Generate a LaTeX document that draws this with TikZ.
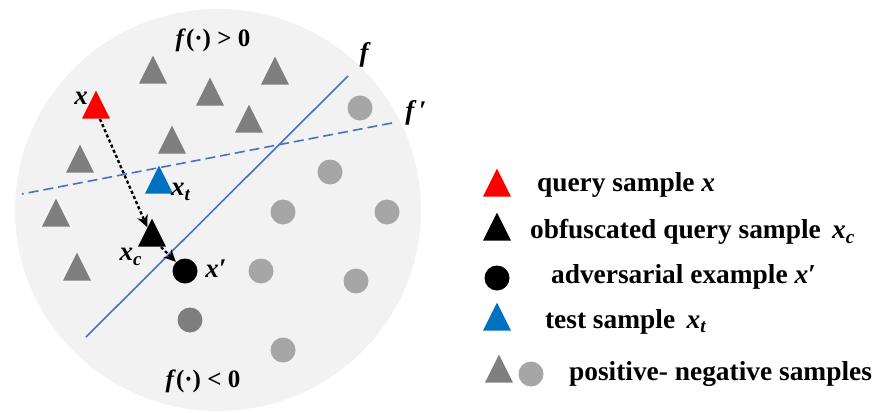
\documentclass[tikz,border=0pt]{standalone}
\usepackage{fontspec}
\setmainfont{Liberation Serif}
\usetikzlibrary{positioning,arrows.meta,shapes.geometric}
\definecolor{bgGray}{RGB}{242,242,242}
\definecolor{posGray}{RGB}{127,127,127}
\definecolor{negGray}{RGB}{166,166,166}
\definecolor{lineBlue}{RGB}{68,114,196}
\definecolor{testBlue}{RGB}{0,112,192}
\tikzset{
  tri/.style={isosceles triangle, isosceles triangle apex angle=53, shape border rotate=90,
    minimum height=14pt, inner sep=0pt, fill=#1},
  dot/.style={circle, minimum size=12.5pt, inner sep=0pt, fill=#1},
  lbl/.style={font=\fontsize{13.5}{15}\selectfont\bfseries\itshape},
  lgd/.style={font=\fontsize{13.7}{16}\selectfont\bfseries, anchor=west},
  region/.style={font=\fontsize{12.5}{15}\selectfont\bfseries},
  qarrow/.style={dash pattern=on 1.6pt off 1.2pt, line width=1.2pt, -{Stealth[length=6pt,width=5.5pt]}},
}
\begin{document}
\begin{tikzpicture}[x=0.5pt, y=-0.5pt]
  \useasboundingbox (0,0) rectangle (877,412);
  % feature space
  \fill[bgGray] (218,210) ellipse[x radius=203, y radius=201];

  % positive (triangles) and negative (circles) samples
  \foreach \x/\y [count=\i] in {153/75, 275/76, 210/97, 249/124, 172/145, 80/164, 56/218, 77/272}
    \node[tri=posGray] (p\i) at (\x,\y) {};
  \foreach \x/\y [count=\i] in {360/108, 330/172, 283/212, 387/212, 261/271, 356/281, 283/350}
    \node[dot=negGray] (n\i) at (\x,\y) {};
  \node[dot=posGray] (n8) at (190,320) {};

  % decision boundaries
  \coordinate (fa) at (348,76);
  \coordinate (fb) at (86,337);
  \coordinate (ga) at (392,123);
  \coordinate (gb) at (22,194);
  \draw[lineBlue, line width=0.8pt] (fa) -- (fb);
  \draw[lineBlue, line width=0.8pt, dash pattern=on 5pt off 2.5pt] (ga) -- (gb);
  \node[lbl] (fl) at (364,55) {f};
  \node[lbl] (gl) at (416,113) {f\,′};

  % query, obfuscated query, adversarial and test samples
  \node[tri=red] (qx) at (96,110) {};
  \node[tri=black] (xc) at (152,238) {};
  \node[dot=black] (xp) at (185,271) {};
  \node[tri=testBlue] (xt) at (159,185) {};
  \node[lbl] (qxl) at (81,98) {x};
  \node[lbl] (xcl) at (131,257) {x\textsubscript{c}};
  \node[lbl] (xpl) at (216,269) {x′};
  \node[lbl] (xtl) at (181,192) {x\textsubscript{t}};
  \draw[qarrow] (qx) -- (xc);
  \draw[qarrow] (xc) -- (xp);

  % regions
  \node[region] (pos) at (213,40) {\textit{f}(·) > 0};
  \node[region] (neg) at (203,381) {\textit{f}(·) < 0};

  % legend
  \node[tri=red] (l1) at (497,188) {};
  \node[tri=black] (l2) at (497,232) {};
  \node[dot=black] (l3) at (497,278) {};
  \node[tri=testBlue] (l4) at (497,322) {};
  \node[tri=posGray] (l5a) at (499,374) {};
  \node[dot=negGray] (l5b) at (531,374) {};
  \node[lgd] (t1) at (530,185) {query sample \textit{x}};
  \node[lgd] (t2) at (523,232) {obfuscated query sample\, \textit{x}\textsubscript{\textit{c}}};
  \node[lgd] (t3) at (544,277) {adversarial example \textit{x}′};
  \node[lgd] (t4) at (538,322) {test sample\, \textit{x}\textsubscript{\textit{t}}};
  \node[lgd] (t5) at (562,374) {positive- negative samples};
\end{tikzpicture}
\end{document}
